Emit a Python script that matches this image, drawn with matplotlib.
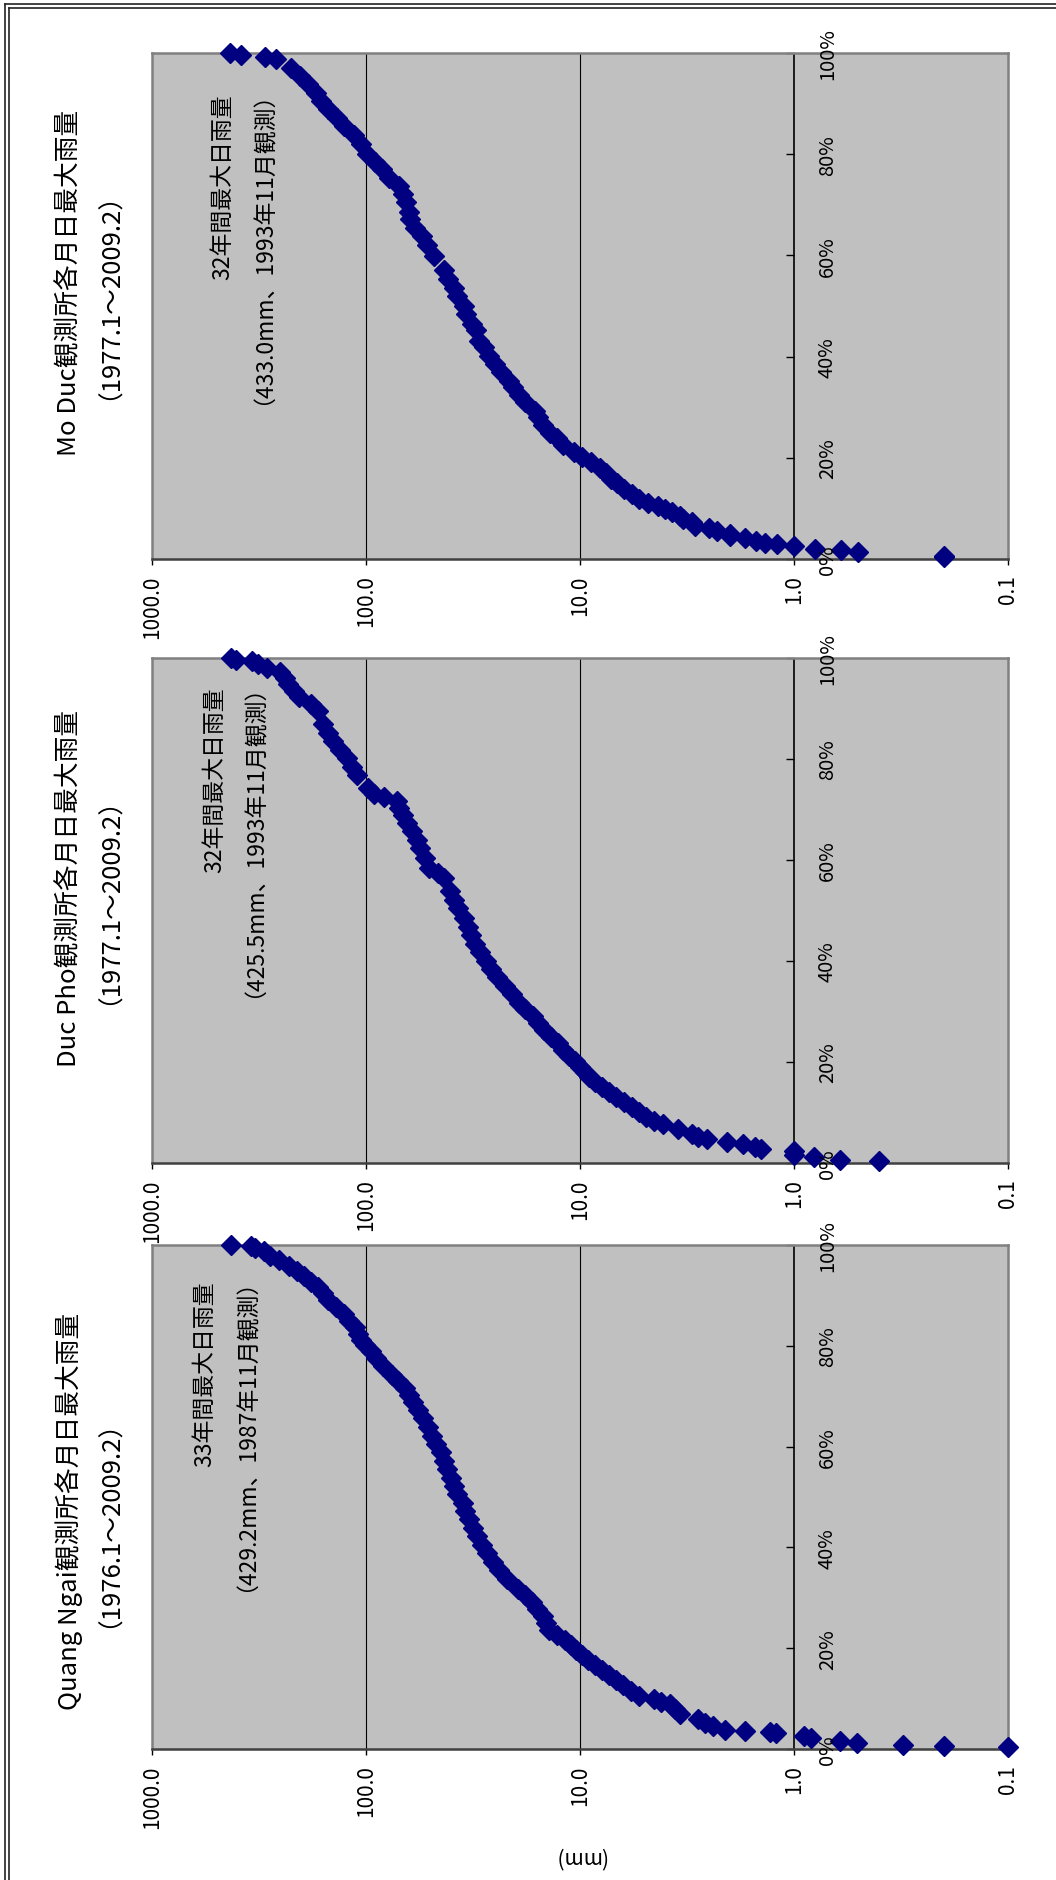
import matplotlib
matplotlib.use("Agg")
import matplotlib.pyplot as plt
from matplotlib.lines import Line2D
from matplotlib.ticker import NullLocator

plt.rcParams["font.family"] = ["Noto Sans CJK JP", "DejaVu Sans"]

# Monthly maximum daily rainfall, sorted; cumulative share (%) vs rainfall (mm)
QN_PCT = [100, 99.8, 99.5, 98.8, 97.8, 97.1, 95.8, 94.8, 93.8, 92.7, 91.7, 90.4,
          89.1, 87.7, 86.4, 85.0, 83.7, 82.3, 81.2, 80.2, 78.9, 77.5, 75.9, 74.3,
          73.0, 71.6, 70.2, 68.9, 67.2, 65.6, 63.9, 62.2, 60.5, 58.9, 57.2, 55.5,
          53.8, 52.1, 50.6, 48.8, 47.3, 45.6, 43.9, 42.2, 40.5, 38.9, 37.2, 35.5,
          33.8, 31.8, 30.5, 29.1, 27.7, 26.4, 25.0, 23.7, 22.7, 21.7, 20.7, 19.7,
          18.6, 17.6, 16.6, 15.6, 14.6, 13.6, 12.6, 11.6, 10.6, 10.0, 9.4, 8.9,
          7.9, 6.9, 5.9, 5.2, 4.5, 3.8, 3.5, 3.3, 3.1, 2.5, 2.2, 1.6, 1.1, 0.8,
          0.5, 0.3]
QN_MM = [429.2, 346, 330, 301, 281, 256, 228, 210, 194, 180, 168, 158,
         150, 138, 127, 120, 113, 109, 105, 101, 95, 90, 83, 76,
         71, 66, 63, 60.5, 57, 54, 51.5, 49, 47, 44.8, 43, 41.7,
         40.2, 38.9, 37.5, 35.4, 34.6, 33, 31.6, 30.2, 28.8, 27.1, 25.6, 23.8,
         22.0, 19.5, 18, 16.8, 15.8, 14.9, 14.4, 14.0, 12.8, 11.7, 11.0, 10.4,
         9.8, 9.2, 8.5, 7.9, 7.3, 6.8, 6.3, 5.8, 5.3, 4.5, 4.2, 3.8,
         3.6, 3.4, 2.8, 2.6, 2.4, 2.1, 1.7, 1.3, 1.22, 0.9, 0.83, 0.61, 0.51, 0.31,
         0.2, 0.1]

DP_PCT = [100, 99.7, 99.5, 98.8, 98.1, 97.2, 96.0, 94.8, 93.5, 92.2, 90.8, 89.5,
          86.9, 85.2, 83.6, 81.8, 80.1, 78.5, 76.8, 74.3, 73.0, 72.5, 71.7, 70.3,
          69.0, 67.3, 65.7, 64.0, 62.4, 60.4, 58.4, 57.4, 56.4, 53.8, 52.0, 50.5,
          48.5, 46.8, 45.1, 43.4, 41.7, 40.0, 38.4, 36.8, 35.1, 33.4, 31.7, 30.4,
          29.1, 27.7, 26.4, 25.0, 23.7, 22.4, 21.1, 20.1, 19.1, 18.1, 17.1, 16.1,
          15.1, 14.1, 13.1, 12.1, 11.1, 10.1, 9.1, 8.4, 7.7, 6.7, 5.7, 5.2,
          4.7, 4.1, 3.7, 3.1, 2.7, 2.3, 1.6, 1.1, 0.5, 0.3]
DP_MM = [425.5, 405, 342, 319, 291, 253, 240, 231, 218, 205, 180, 167,
         159, 150, 142, 132, 123, 116, 110, 98, 92, 82, 72, 70,
         67, 64, 61, 58, 56, 53, 51, 46, 43, 40.6, 39, 37,
         35, 33.5, 32.2, 31, 29.4, 27.5, 26.1, 24.3, 22.5, 20.8, 19.3, 18,
         16.6, 15.7, 14.8, 13.7, 12.7, 12.0, 11.3, 10.6, 10.0, 9.5, 9.1, 8.5,
         7.9, 7.3, 6.8, 6.2, 5.7, 5.3, 4.9, 4.5, 4.1, 3.5, 3.0, 2.8,
         2.55, 2.05, 1.73, 1.52, 1.43, 1.0, 1.0, 0.81, 0.61, 0.4]

MD_PCT = [100, 99.7, 99.2, 98.9, 97.1, 95.5, 93.8, 92.0, 90.5, 88.9, 87.1, 85.5,
          83.8, 82.0, 80.0, 78.5, 77.1, 75.2, 73.8, 72.1, 70.5, 68.5, 67.1, 65.5,
          63.8, 62.0, 59.8, 57.1, 55.3, 53.5, 51.9, 50.0, 48.5, 46.5, 45.2, 43.1,
          41.9, 40.1, 38.5, 37.0, 35.2, 34.0, 32.4, 31.0, 29.2, 28.0, 26.5, 25.0,
          23.9, 22.5, 21.2, 20.2, 19.2, 17.9, 17.0, 15.9, 15.0, 13.9, 12.9, 11.9,
          11.1, 10.5, 9.8, 9.2, 8.4, 7.9, 7.3, 6.5, 6.2, 5.5, 4.9, 4.5,
          4.2, 3.5, 3.2, 2.9, 2.5, 2.0, 1.7, 1.3, 0.5, 0.3]
MD_MM = [433.0, 384, 297, 264, 224, 203, 186, 172, 162, 150, 137, 127,
         114, 106, 99, 91, 84, 78, 70, 67, 65, 63, 62, 59,
         55, 52, 48, 43, 41.5, 39, 37.5, 35, 34, 32, 30.7, 29.7,
         28, 26.5, 25, 23.5, 21.4, 20.5, 19.3, 18, 16.3, 15.7, 14.9, 13.8,
         12.8, 12.0, 10.7, 9.8, 8.9, 8.1, 7.6, 7.2, 6.7, 6.2, 5.7, 5.3,
         4.8, 4.3, 4.0, 3.7, 3.4, 3.3, 3.0, 2.9, 2.5, 2.3, 2.0, 2.0,
         1.7, 1.5, 1.37, 1.2, 1.0, 0.8, 0.6, 0.5, 0.2, 0.2]

STATIONS = ["Quang Ngai", "Duc Pho", "Mo Duc"]
PERIODS = ["1976.1～2009.2", "1977.1～2009.2", "1977.1～2009.2"]
YEARS = [33, 32, 32]
RECORDS = ["429.2mm、1987年11月観測", "425.5mm、1993年11月観測",
           "433.0mm、1993年11月観測"]
SERIES = [(QN_PCT, QN_MM), (DP_PCT, DP_MM), (MD_PCT, MD_MM)]

VAL_TICKS = [1000, 100, 10, 1, 0.1]
VAL_LABELS = ["1000.0", "100.0", "10.0", "1.0", "0.1"]
PCT_TICKS = [0, 20, 40, 60, 80, 100]

W, H = 1056, 1881
fig = plt.figure(figsize=(W / 100, H / 100), dpi=100)
fig.patch.set_facecolor("white")

# panel boxes in pixels: (top, bottom), bottom panel first
boxes = [(1246, 1750), (659, 1164), (54, 560)]
x0, x1 = 152, 1008
title_cy = [1511, 888, 283]
# annotation: x of line 1, x of line 2, gap below panel top (pixels)
notes = [(205, 235, 35), (215, 243, 28), (223, 252, 40)]

for i, ((top, bot), (pct, mm)) in enumerate(zip(boxes, SERIES)):
    ax = fig.add_axes([x0 / W, 1 - bot / H, (x1 - x0) / W, (bot - top) / H])
    ax.set_facecolor("#C0C0C0")
    ax.set_xscale("log")
    ax.set_xlim(1000, 0.1)
    ax.set_ylim(0, 100)
    ax.set_xticks(VAL_TICKS)
    ax.set_xticklabels(VAL_LABELS)
    ax.xaxis.set_minor_locator(NullLocator())
    ax.set_yticks([])
    ax.tick_params(axis="x", direction="out", length=4, width=1,
                   pad=7, labelsize=15, labelrotation=90, colors="black")
    for s in ("top", "left", "right"):
        ax.spines[s].set_color("#808080")
        ax.spines[s].set_linewidth(1.8)
    ax.spines["bottom"].set_color("#404040")
    ax.spines["bottom"].set_linewidth(1.8)

    ax.axvline(100, color="black", lw=0.8, zorder=1)
    ax.axvline(10, color="black", lw=0.8, zorder=1)
    ax.axvline(1, color="black", lw=1.2, zorder=1)
    ax.plot([1] * len(PCT_TICKS), PCT_TICKS, marker=0, ms=6, mew=1,
            ls="none", color="black", zorder=1, clip_on=False)
    for p in PCT_TICKS:
        ax.annotate(f"{p}%", xy=(1, p), xytext=(24, 0),
                    textcoords="offset points", rotation=90,
                    ha="center", va="center", fontsize=14.5, zorder=5,
                    annotation_clip=False)

    ax.plot(mm, pct, ls="none", marker="D", ms=10, color="#000080",
            mec="#000080", zorder=4, clip_on=False)

    lx1, lx2, gap = notes[i]
    ty = 1 - gap / (bot - top)
    ax.text((lx1 - x0) / (x1 - x0), ty, f"{YEARS[i]}年間最大日雨量",
            transform=ax.transAxes, rotation=90, ha="center", va="top",
            fontsize=16.5, zorder=3)
    ax.text((lx2 - x0) / (x1 - x0), ty + 0.05, f"（{RECORDS[i]}）",
            transform=ax.transAxes, rotation=90, ha="center", va="top",
            fontsize=16.5, zorder=3)

    cy = 1 - title_cy[i] / H
    fig.text(69 / W, cy, f"{STATIONS[i]}観測所各月日最大雨量",
             rotation=90, ha="center", va="center", fontsize=18.5)
    fig.text(97 / W, cy, f"（{PERIODS[i]}）",
             rotation=90, ha="center", va="center", fontsize=18.5)

fig.text(580 / W, 1 - 1857 / H, "(mm)", rotation=180, ha="center",
         va="center", fontsize=15)

# outer frame (top and left only, double line)
for off in (5, 9):
    fig.add_artist(Line2D([off / W, 1], [1 - off / H, 1 - off / H],
                          transform=fig.transFigure, color="#222222", lw=1.2))
    fig.add_artist(Line2D([off / W, off / W], [0, 1 - off / H],
                          transform=fig.transFigure, color="#222222", lw=1.2))

fig.savefig("out.png", dpi=100, facecolor="white")
